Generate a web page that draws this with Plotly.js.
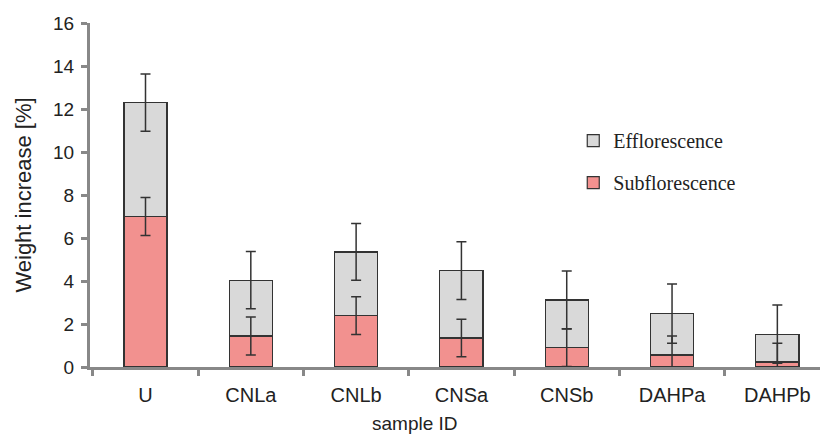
<!DOCTYPE html>
<html>
<head>
<meta charset="utf-8">
<script src="https://cdn.plot.ly/plotly-3.0.1.min.js"></script>
<style>html,body{margin:0;padding:0;background:#fff;}#chart{width:820px;height:434px;}</style>
</head>
<body>
<div id="chart"></div>
<script>
const categories = ["U", "CNLa", "CNLb", "CNSa", "CNSb", "DAHPa", "DAHPb"];
const subflorescence = [7.0, 1.44, 2.39, 1.35, 0.9, 0.56, 0.23];
const totalIncrease = [12.3, 4.04, 5.35, 4.48, 3.12, 2.48, 1.53];
const efflorescence = totalIncrease.map((t, i) => +(t - subflorescence[i]).toFixed(2));
const subError = [0.88, 0.88, 0.88, 0.87, 0.88, 0.88, 0.88];
const effError = [1.33, 1.33, 1.32, 1.34, 1.35, 1.38, 1.35];

const sans = "Liberation Sans, Arial, sans-serif";
const serif = "Liberation Serif, Times New Roman, serif";
const errStyle = {color: "#333333", thickness: 1.5, width: 5};

const traces = [
  {
    type: "bar", name: "Subflorescence", x: categories, y: subflorescence,
    legendgroup: "s", legendrank: 2, width: 0.41,
    marker: {color: "#f2918f", line: {color: "#333333", width: 1.2}}
  },
  {
    type: "bar", name: "Efflorescence", x: categories, y: efflorescence,
    legendgroup: "e", legendrank: 1, width: 0.41,
    marker: {color: "#d9d9d9", line: {color: "#333333", width: 1.2}}
  },
  {
    type: "scatter", mode: "markers", x: categories, y: subflorescence,
    showlegend: false, hoverinfo: "skip",
    marker: {size: 1, color: "rgba(0,0,0,0)"},
    error_y: Object.assign({type: "data", array: subError, visible: true}, errStyle)
  },
  {
    type: "scatter", mode: "markers", x: categories, y: totalIncrease,
    showlegend: false, hoverinfo: "skip",
    marker: {size: 1, color: "rgba(0,0,0,0)"},
    error_y: Object.assign({type: "data", array: effError, visible: true}, errStyle)
  }
];

const layout = {
  width: 820, height: 434,
  margin: {l: 90, r: 0, t: 23, b: 67},
  paper_bgcolor: "#ffffff", plot_bgcolor: "#ffffff",
  barmode: "stack",
  showlegend: true,
  legend: {
    x: 0.662, y: 0.715, xanchor: "left", yanchor: "top",
    traceorder: "grouped", tracegroupgap: 13,
    font: {family: serif, size: 20, color: "#222"},
    bgcolor: "rgba(0,0,0,0)"
  },
  annotations: [{
    text: "sample ID", xref: "paper", yref: "paper",
    x: 0.445, y: -0.165, xanchor: "center", yanchor: "middle",
    showarrow: false, font: {family: sans, size: 19, color: "#222"}
  }],
  xaxis: {
    range: [-0.527, 6.405],
    tickson: "boundaries",
    ticks: "outside", ticklen: 6, tickwidth: 3, tickcolor: "#888888",
    ticklabelstandoff: 8,
    showline: true, linecolor: "#888888", linewidth: 3,
    showgrid: false, zeroline: false,
    tickfont: {family: sans, size: 20, color: "#222"},
    automargin: false
  },
  yaxis: {
    range: [0, 16], dtick: 2,
    ticks: "outside", ticklen: 6, tickwidth: 3, tickcolor: "#888888",
    ticklabelstandoff: 3,
    showline: true, linecolor: "#888888", linewidth: 3,
    showgrid: false, zeroline: false,
    tickfont: {family: sans, size: 19, color: "#222"},
    title: {text: "Weight increase [%]", font: {family: sans, size: 22, color: "#222"}, standoff: 16},
    automargin: false
  }
};

Plotly.newPlot("chart", traces, layout, {displayModeBar: false, staticPlot: true});
</script>
</body>
</html>
